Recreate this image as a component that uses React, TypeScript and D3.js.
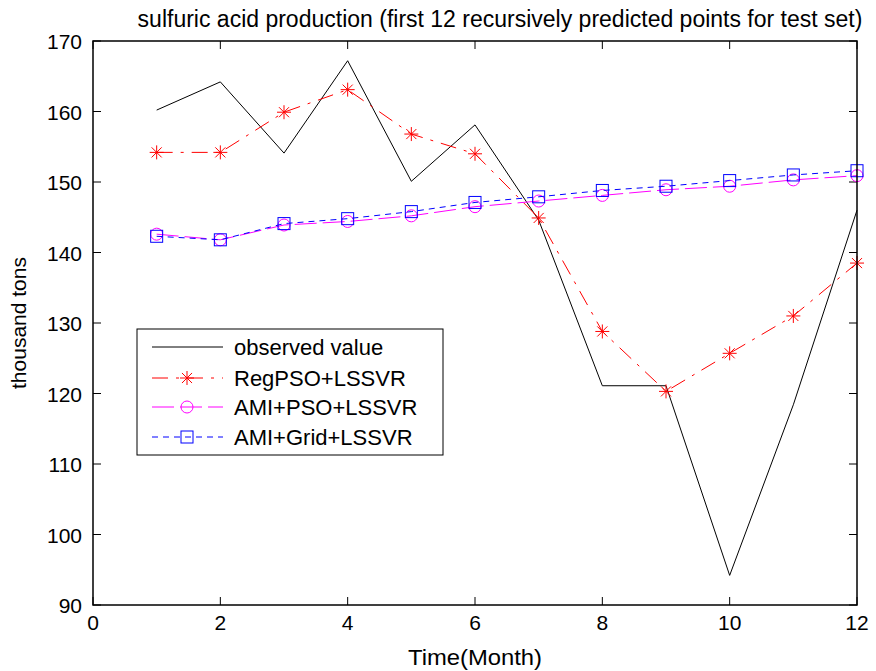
import React from "react"
import * as d3 from "d3"

// months 1..12
const months = [1, 2, 3, 4, 5, 6, 7, 8, 9, 10, 11, 12]
const observed = [160.2, 164.2, 154.1, 167.2, 150.1, 158.1, 144.6, 121.1, 121.1, 94.2, 118.4, 146]
const regPso = [154.2, 154.2, 159.9, 163.1, 156.8, 154.0, 144.9, 128.8, 120.3, 125.7, 131.0, 138.5]
const amiPso = [142.6, 141.8, 143.9, 144.4, 145.2, 146.5, 147.3, 148.1, 148.9, 149.4, 150.3, 150.9]
const amiGrid = [142.3, 141.8, 144.1, 144.8, 145.8, 147.1, 147.9, 148.8, 149.4, 150.2, 151.0, 151.6]

const xTicks = [0, 2, 4, 6, 8, 10, 12]
const yTicks = [90, 100, 110, 120, 130, 140, 150, 160, 170]

const series = [
  { name: "observed value", values: observed, color: "#000000", dash: "none", marker: "none" },
  { name: "RegPSO+LSSVR", values: regPso, color: "#ff0000", dash: "16,8,3,8", marker: "star" },
  { name: "AMI+PSO+LSSVR", values: amiPso, color: "#ff00ff", dash: "22,6", marker: "circle" },
  { name: "AMI+Grid+LSSVR", values: amiGrid, color: "#0000ff", dash: "6,5", marker: "square" },
]

const W = 876, H = 671
const m = { left: 93, right: 19, top: 41, bottom: 66 }
const font = "'Liberation Sans', Arial, sans-serif"

function Marker({ type, x, y, color }: { type: string; x: number; y: number; color: string }) {
  if (type === "star") {
    const r = 7
    const d = r * 0.72
    return (
      <g stroke={color} strokeWidth={1}>
        <line x1={x - r} y1={y} x2={x + r} y2={y} />
        <line x1={x} y1={y - r} x2={x} y2={y + r} />
        <line x1={x - d} y1={y - d} x2={x + d} y2={y + d} />
        <line x1={x - d} y1={y + d} x2={x + d} y2={y - d} />
      </g>
    )
  }
  if (type === "circle") {
    return <circle cx={x} cy={y} r={6} fill="none" stroke={color} strokeWidth={1} />
  }
  if (type === "square") {
    return <rect x={x - 6} y={y - 6} width={12} height={12} fill="none" stroke={color} strokeWidth={1} />
  }
  return null
}

export default function App() {
  const x = d3.scaleLinear().domain([0, 12]).range([m.left, W - m.right])
  const y = d3.scaleLinear().domain([90, 170]).range([H - m.bottom, m.top])
  const line = d3.line<number>().x((_, i) => x(months[i])).y(d => y(d))

  const x0 = x(0), x1 = x(12), y0 = y(90), y1 = y(170)
  const tk = 8

  // legend box
  const lg = { x: 137, y: 329, w: 306, h: 126 }
  const rowY = [347, 378, 407, 437]

  return (
    <svg width={W} height={H} style={{ position: "absolute", left: 0, top: 0, background: "#fff" }} fontFamily={font}>
      <rect width={W} height={H} fill="#fff" />
      {/* ticks */}
      {xTicks.map(t => (
        <g key={"xt" + t} stroke="#000" strokeWidth={1}>
          <line x1={x(t)} y1={y0} x2={x(t)} y2={y0 - tk} />
          <line x1={x(t)} y1={y1} x2={x(t)} y2={y1 + tk} />
        </g>
      ))}
      {yTicks.map(t => (
        <g key={"yt" + t} stroke="#000" strokeWidth={1}>
          <line x1={x0} y1={y(t)} x2={x0 + tk} y2={y(t)} />
          <line x1={x1} y1={y(t)} x2={x1 - tk} y2={y(t)} />
        </g>
      ))}
      {xTicks.map(t => (
        <text key={"xl" + t} x={x(t)} y={y0 + 25} textAnchor="middle" fontSize={21}>{t}</text>
      ))}
      {yTicks.map(t => (
        <text key={"yl" + t} x={x0 - 11} y={y(t) + 8} textAnchor="end" fontSize={21}>{t}</text>
      ))}

      {/* series */}
      {series.map(s => (
        <g key={s.name}>
          <path d={line(s.values) || ""} fill="none" stroke={s.color} strokeWidth={1} strokeDasharray={s.dash} />
          {s.values.map((v, i) => (
            <Marker key={i} type={s.marker} x={x(months[i])} y={y(v)} color={s.color} />
          ))}
        </g>
      ))}

      {/* axes box */}
      <rect x={x0} y={y1} width={x1 - x0} height={y0 - y1} fill="none" stroke="#000" strokeWidth={1.5} />

      {/* legend */}
      <rect x={lg.x} y={lg.y} width={lg.w} height={lg.h} fill="#fff" stroke="#000" strokeWidth={1} />
      {series.map((s, i) => (
        <g key={"lg" + s.name}>
          <line x1={152} y1={rowY[i]} x2={223} y2={rowY[i]} stroke={s.color} strokeWidth={1} strokeDasharray={s.dash} />
          <Marker type={s.marker} x={187} y={rowY[i]} color={s.color} />
          <text x={234} y={rowY[i] + 8} fontSize={22}>{s.name}</text>
        </g>
      ))}

      {/* labels */}
      <text x={500} y={27} textAnchor="middle" fontSize={23}>
        sulfuric acid production (first 12 recursively predicted points for test set)
      </text>
      <text x={(x0 + x1) / 2} y={665} textAnchor="middle" fontSize={22} textLength={134} lengthAdjust="spacingAndGlyphs">Time(Month)</text>
      <text transform={`translate(26, ${(y0 + y1) / 2}) rotate(-90)`} textAnchor="middle" fontSize={21}>thousand tons</text>
    </svg>
  )
}
